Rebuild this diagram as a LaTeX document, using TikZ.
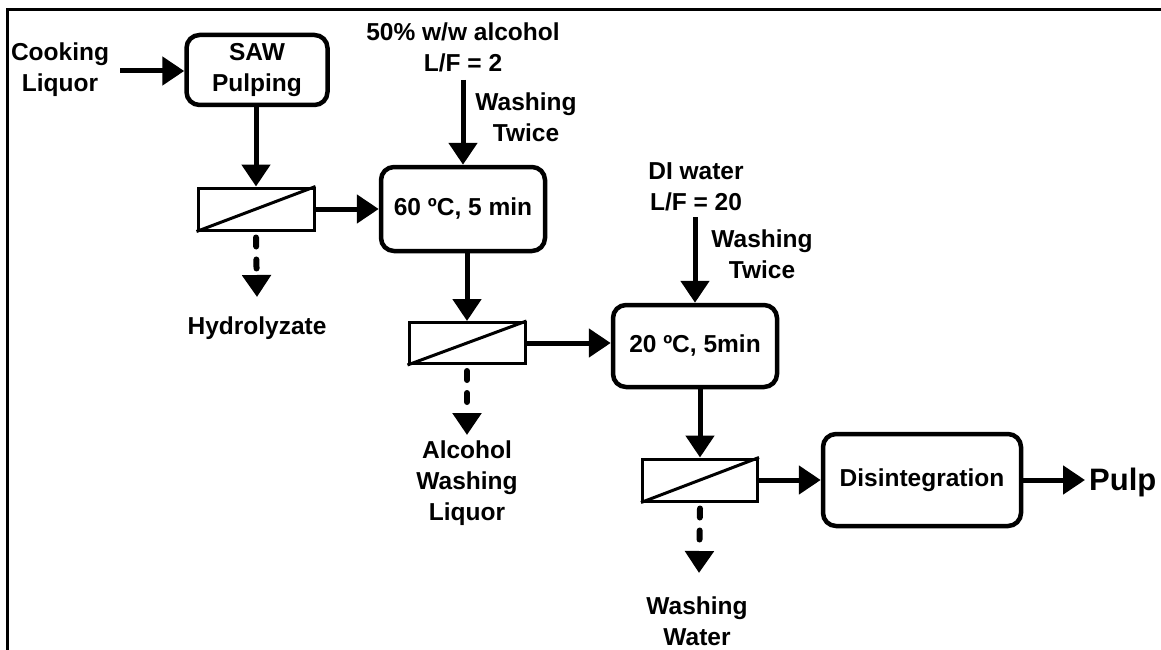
\documentclass[tikz,border=0pt]{standalone}
\usepackage{fontspec}
\setmainfont{Liberation Sans}
\usetikzlibrary{arrows.meta,calc}
\begin{document}
\begin{tikzpicture}[x=1pt,y=-1pt,
  every node/.style={font=\fontsize{24.5}{31}\selectfont\bfseries, inner sep=0pt, align=center},
  proc/.style={draw, line width=4.5pt, rounded corners=13pt},
  filt/.style={draw, line width=3pt, minimum width=116pt, minimum height=42pt},
  flow/.style={line width=5pt, -{Triangle[length=22pt,width=28pt]}},
  drain/.style={line width=6pt, dash pattern=on 9pt off 13pt, line cap=round, -{Triangle[length=22pt,width=28pt]}}
]
\useasboundingbox (0,0) rectangle (1161,650);
\draw[line width=3pt] (7,650) -- (7,10) -- (1161,10);

% nodes
\node (cook) at (60,70) {Cooking\\Liquor};
\node[proc, minimum width=141pt, minimum height=70pt] (saw) at (257,70) {SAW\\Pulping};
\node[filt] (f1) at (256,209) {};
\node (hyd) at (257,328) {Hydrolyzate};
\node[proc, minimum width=164pt, minimum height=84pt] (b60) at (463,209) {60 ºC, 5 min};
\node (top1) at (463,47) {50\% w/w alcohol\\L/F = 2};
\node (wt1) at (526,117) {Washing\\Twice};
\node[filt, minimum height=41pt] (f2) at (467,343) {};
\node (alc) at (467,483) {Alcohol\\Washing\\Liquor};
\node[proc, minimum width=164pt, minimum height=82pt] (b20) at (695,346) {20 ºC, 5min};
\node (top2) at (696,187) {DI water\\L/F = 20};
\node (wt2) at (762,254) {Washing\\Twice};
\node[filt, minimum width=115pt] (f3) at (700,480) {};
\node (ww) at (697,621) {Washing\\Water};
\node[proc, minimum width=198pt, minimum height=92pt] (dis) at (922,480) {Disintegration};
\node[font=\fontsize{31}{36}\selectfont\bfseries, anchor=west] (pulp) at (1089,482) {Pulp};

% filter diagonals
\draw[line width=3pt] (f1.south west) -- (f1.north east);
\draw[line width=3pt] (f2.south west) -- (f2.north east);
\draw[line width=3pt] (f3.south west) -- (f3.north east);

% free-end coordinates
\coordinate (cookend) at (120,71);
\coordinate (top1end) at (463,80);
\coordinate (top2end) at (695,217);
\coordinate (d1) at (257,297);
\coordinate (d2) at (467,435);
\coordinate (d3) at (699,573);
\coordinate (pulpend) at (1085,480);

% connectors
\draw[flow] (cookend) -- (saw.west |- cookend);
\draw[flow] (saw.south -| f1.north) -- (f1.north);
\draw[flow] (f1.east) -- (b60.west |- f1.east);
\draw[flow] (top1end) -- (b60.north);
\draw[flow] (b60.south -| f2.north) -- (f2.north);
\draw[flow] (f2.east) -- (b20.west |- f2.east);
\draw[flow] (top2end) -- (b20.north);
\draw[flow] (b20.south -| f3.north) -- (f3.north);
\draw[flow] (f3.east) -- (dis.west |- f3.east);
\draw[flow] (dis.east) -- (pulpend);

\draw[drain] ($(f1.south)+(0,6)$) -- (d1);
\draw[drain] ($(f2.south)+(0,6)$) -- (d2);
\draw[drain] ($(f3.south)+(0,6)$) -- (d3);
\end{tikzpicture}
\end{document}
